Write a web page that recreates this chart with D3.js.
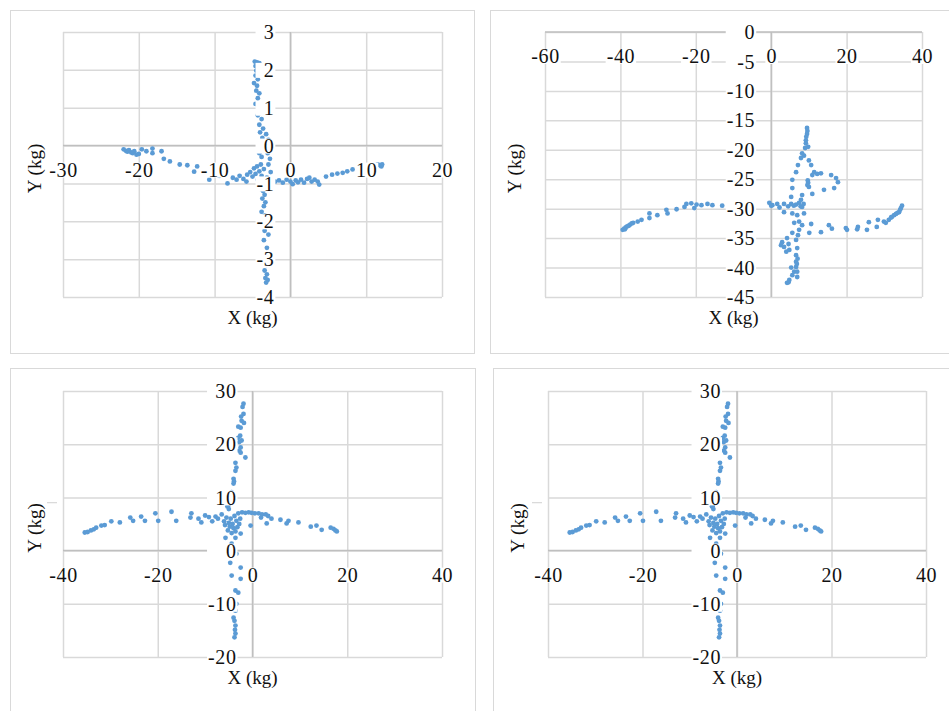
<!DOCTYPE html>
<html>
<head>
<meta charset="utf-8">
<script src="https://cdn.jsdelivr.net/npm/d3@7"></script>
<style>
  body { margin: 0; background: #fff; }
  svg text { font-family: "Liberation Serif", "DejaVu Serif", serif; fill: #111; }
</style>
</head>
<body>
<svg id="chart"></svg>
<script>
// panel 1 points (kg)
var p1X = [-22.0,-21.7,-21.5,-21.3,-21.0,-20.8,-20.6,-20.3,-20.0,-19.6,-19.0,-18.2,-18.2,-17.0,-16.7,-15.9,-14.6,-13.6,-12.7,-12.3,-10.7,-9.4,-8.3,-7.6,-7.1,-6.7,-6.2,-5.8,-5.7,-5.3,-5.0,
  -4.8,-4.6,-4.4,-4.3,-4.1,-4.0,-3.9,-3.8,-3.6,-3.5,-3.3,-3.1,
  -4.7,-4.4,-4.1,-4.6,-4.2,-4.5,-4.0,-4.6,-4.3,-4.8,-4.4,-4.5,-4.1,-4.3,-4.6,-4.0,-4.3,-3.8,-4.1,-3.6,-4.0,-3.7,-4.2,-3.9,-3.5,-4.1,-3.8,-3.2,-2.9,-2.8,-3.0,-2.7,-2.9,-2.6,
  -3.9,-3.6,-3.4,-3.7,-3.3,-3.5,-3.8,-3.4,-3.6,-3.2,-3.4,-2.9,-3.5,-3.1,-3.3,-3.6,-3.2,-3.4,-3.1,-3.3,-3.0,-3.2,
  -2.5,-2.0,-1.5,-1.0,-0.5,0.0,0.3,0.7,1.0,1.4,1.8,2.2,2.5,2.8,3.2,3.6,3.8,4.7,5.5,6.2,6.9,7.5,8.2,9.0,11.5,11.8,12.0,12.1];
var p1Y = [-0.10,-0.14,-0.16,-0.12,-0.18,-0.20,-0.15,-0.24,-0.22,-0.10,-0.15,-0.08,-0.20,-0.15,-0.35,-0.42,-0.50,-0.52,-0.69,-0.55,-0.90,-0.80,-1.00,-0.85,-0.90,-0.80,-0.88,-0.95,-0.77,-0.70,-0.82,
  -0.60,-0.75,-0.55,-0.90,-0.68,-1.00,-0.50,-0.80,-0.95,-0.62,-1.05,-0.85,
  2.22,2.20,2.18,2.10,2.05,1.98,1.92,1.85,1.75,1.65,1.58,1.45,1.38,1.25,1.10,0.95,0.80,0.70,0.55,0.45,0.35,0.20,0.10,0.00,-0.10,-0.20,-0.30,0.30,0.15,-0.05,-0.20,-0.35,-0.50,-0.70,
  -1.15,-1.20,-1.30,-1.40,-1.50,-1.60,-1.75,-1.85,-2.00,-2.10,-2.25,-2.35,-2.50,-2.70,-2.90,-3.05,-3.15,-3.30,-3.40,-3.50,-3.55,-3.62,
  -1.00,-0.95,-0.92,-0.98,-0.90,-0.95,-1.02,-0.92,-0.97,-0.90,-0.98,-0.88,-0.85,-0.95,-0.90,-0.95,-1.03,-0.82,-0.77,-0.74,-0.72,-0.68,-0.63,-0.60,-0.50,-0.52,-0.55,-0.50];

// panel 2 points (kg)
var p2X = [-39.4,-39.0,-38.6,-38.2,-37.8,-37.4,-37.0,-38.8,-36.6,-35.4,-34.4,-32.3,-32.3,-30.2,-27.8,-27.5,-25.1,-23.0,-22.5,-21.2,-20.4,-19.8,-18.5,-16.9,-15.6,-13.0,-10.0,-7.0,
  -0.5,0.0,0.3,1.6,2.2,3.4,4.5,5.3,6.0,6.6,7.4,7.8,8.2,8.6,3.4,5.6,6.9,8.7,
  9.5,9.6,9.5,9.3,9.2,9.2,9.0,9.8,8.2,8.7,7.9,10.0,10.6,7.1,6.6,11.4,12.2,13.2,10.9,15.9,17.2,17.7,16.7,14.0,10.9,9.8,9.6,10.0,9.7,5.6,5.6,8.2,7.9,5.3,
  6.1,7.4,8.2,10.6,10.1,7.4,5.6,4.2,2.9,2.6,3.4,4.8,4.0,4.6,6.6,7.1,6.9,6.6,6.6,6.6,6.1,5.3,5.6,4.8,4.2,4.6,6.9,6.9,7.0,6.8,
  13.2,15.3,16.1,19.8,20.1,22.8,23.0,25.4,25.9,28.0,28.3,29.9,30.4,31.2,31.8,32.0,32.6,33.1,33.5,33.9,34.2,34.4,34.7];
var p2Y = [-33.6,-33.4,-33.2,-33.0,-32.9,-32.7,-32.5,-33.5,-32.4,-32.2,-31.9,-30.8,-31.6,-31.1,-30.2,-30.8,-30.1,-29.7,-29.2,-29.1,-29.9,-29.3,-29.4,-29.2,-29.4,-29.5,-29.6,-29.5,
  -29.0,-29.5,-29.4,-29.2,-29.8,-29.2,-29.6,-29.2,-29.5,-29.3,-29.0,-29.6,-29.7,-29.2,-30.6,-30.8,-31.1,-30.8,
  -16.3,-16.8,-17.3,-17.8,-18.4,-18.9,-19.7,-19.5,-20.6,-21.0,-21.4,-21.8,-22.6,-22.6,-23.8,-23.8,-24.1,-24.0,-24.3,-24.3,-24.8,-25.5,-26.5,-26.8,-27.5,-25.6,-26.0,-26.3,-25.2,-25.1,-26.5,-27.7,-28.5,-28.0,
  -32.4,-32.2,-32.8,-32.6,-34.1,-33.6,-34.1,-35.0,-35.7,-36.2,-36.5,-37.0,-37.3,-36.0,-35.3,-34.5,-36.7,-37.9,-39.0,-39.9,-40.7,-40.0,-41.3,-42.1,-42.6,-42.5,-40.7,-41.6,-38.5,-39.4,
  -34.0,-32.8,-33.4,-33.3,-33.6,-33.5,-33.1,-33.6,-32.3,-33.1,-31.9,-32.2,-32.4,-31.9,-31.5,-31.4,-31.1,-30.9,-30.7,-30.6,-30.2,-29.9,-29.5];

// panels 3 and 4 points (kg)
var p3X = [-1.9,-2.1,-1.9,-2.4,-2.3,-1.8,-2.5,-3.0,-3.0,-2.6,-2.3,-2.8,-2.5,-2.8,-2.5,-1.5,-3.6,-3.4,-3.6,-4.0,-3.9,-4.0,-4.4,-4.7,-5.1,-5.3,-5.0,
  -35.4,-34.8,-34.1,-33.5,-33.0,-31.9,-31.2,-29.8,-28.0,-25.8,-25.2,-23.5,-22.7,-20.5,-19.9,-17.1,-16.1,-12.9,-13.1,-11.4,-10.8,-10.0,-9.2,-7.8,-7.3,-8.5,
  -6.5,-6.0,-5.8,-5.5,-5.2,-5.0,-4.8,-4.6,-4.4,-4.2,-4.0,-3.8,-3.6,-3.4,-3.2,-3.0,-2.8,-2.6,-2.5,
  -2.2,-1.5,-0.8,-0.2,0.5,1.3,2.0,2.8,3.3,1.8,-0.4,4.0,3.0,5.9,7.6,7.2,9.7,12.3,13.5,14.6,16.5,17.1,17.5,17.8,
  -5.7,-3.6,-4.4,-3.4,-4.7,-2.5,-4.4,-2.5,-3.6,-3.0,-3.4,-3.6,-4.0,-3.8,-3.6,-3.7,-3.6,-3.8];
var p3Y = [27.6,27.0,25.7,25.2,24.4,24.0,23.1,23.3,21.2,21.6,20.7,20.4,19.4,18.8,18.4,17.5,16.5,15.6,15.0,13.5,13.0,12.6,11.0,10.0,8.5,8.3,7.8,
  3.4,3.5,3.8,4.0,4.3,4.7,4.8,5.5,5.3,6.2,5.6,6.4,5.6,7.0,5.6,7.3,5.6,7.0,6.2,6.0,5.3,6.6,6.3,6.4,6.0,5.5,
  6.8,5.5,4.8,6.2,3.8,5.2,4.5,6.0,3.3,5.0,4.2,6.5,3.6,5.6,4.4,7.0,5.0,6.0,3.2,
  7.2,7.1,7.2,7.1,7.0,7.0,6.8,6.8,6.5,6.2,4.7,6.0,5.1,5.8,5.6,5.1,5.3,4.5,4.7,3.9,4.3,4.1,3.8,3.6,
  2.4,2.4,1.3,-0.6,-2.3,-3.2,-4.7,-5.3,-7.5,-7.9,-10.0,-11.3,-12.6,-13.2,-14.1,-14.9,-15.6,-16.3];

var panels = [
  {frame: [10, 10, 464, 343], plot: [63, 32, 442, 297], xDom: [-30, 20], xTicks: [-30, -20, -10, 0, 10, 20],
   yDom: [-4, 3], yTicks: [-4, -3, -2, -1, 0, 1, 2, 3], xs: p1X, ys: p1Y, mark: false},
  {frame: [490, 10, 470, 343], plot: [545, 32, 922, 297], xDom: [-60, 40], xTicks: [-60, -40, -20, 0, 20, 40],
   yDom: [-45, 0], yTicks: [-45, -40, -35, -30, -25, -20, -15, -10, -5, 0], xs: p2X, ys: p2Y, mark: false},
  {frame: [10, 368, 465, 360], plot: [63, 391, 442, 657], xDom: [-40, 40], xTicks: [-40, -20, 0, 20, 40],
   yDom: [-20, 30], yTicks: [-20, -10, 0, 10, 20, 30], xs: p3X, ys: p3Y, mark: true},
  {frame: [493, 368, 470, 360], plot: [548, 391, 926, 657], xDom: [-40, 40], xTicks: [-40, -20, 0, 20, 40],
   yDom: [-20, 30], yTicks: [-20, -10, 0, 10, 20, 30], xs: p3X, ys: p3Y, mark: true}
];

var svg = d3.select("#chart").attr("width", 949).attr("height", 711);
var fs = 19, tickFs = 20;

panels.forEach(function(p) {
  var left = p.plot[0], top = p.plot[1], right = p.plot[2], bottom = p.plot[3];
  var x = d3.scaleLinear().domain(p.xDom).range([left, right]),
      y = d3.scaleLinear().domain(p.yDom).range([bottom, top]);
  var g = svg.append("g");

  // chart area border
  g.append("rect")
      .attr("x", p.frame[0] + 0.5).attr("y", p.frame[1] + 0.5)
      .attr("width", p.frame[2]).attr("height", p.frame[3])
      .attr("fill", "#fff").attr("stroke", "#d9d9d9");

  // gridlines
  var gx = g.append("g")
      .attr("transform", "translate(0," + bottom + ")")
      .call(d3.axisBottom(x).tickValues(p.xTicks).tickSize(-(bottom - top)).tickFormat(""));
  var gy = g.append("g")
      .attr("transform", "translate(" + left + ",0)")
      .call(d3.axisLeft(y).tickValues(p.yTicks).tickSize(-(right - left)).tickFormat(""));
  [gx, gy].forEach(function(a) {
    a.select(".domain").remove();
    a.selectAll("line").attr("stroke", "#d9d9d9").attr("stroke-width", 1.5);
  });

  // zero axes
  g.append("line").attr("x1", left).attr("x2", right).attr("y1", y(0)).attr("y2", y(0))
      .attr("stroke", "#bfbfbf").attr("stroke-width", 1.5);
  g.append("line").attr("x1", x(0)).attr("x2", x(0)).attr("y1", top).attr("y2", bottom)
      .attr("stroke", "#bfbfbf").attr("stroke-width", 1.5);

  // points
  g.selectAll("circle")
      .data(d3.range(p.xs.length))
    .enter().append("circle")
      .attr("cx", function(i) { return x(p.xs[i]); })
      .attr("cy", function(i) { return y(p.ys[i]); })
      .attr("r", 2.4)
      .attr("fill", "#5b9bd5");

  // x tick labels, sitting under the y=0 line
  var lx = g.append("g")
      .attr("transform", "translate(0," + y(0) + ")")
      .call(d3.axisBottom(x).tickValues(p.xTicks).tickSize(0).tickFormat(function(d) { return String(d); }));
  lx.select(".domain").remove();
  lx.selectAll("text").attr("y", 31).attr("dy", null)
      .attr("font-size", tickFs).attr("font-family", null).attr("letter-spacing", "0.6px");

  // y tick labels, left of the x=0 line
  var ly = g.append("g")
      .attr("transform", "translate(" + x(0) + ",0)")
      .call(d3.axisLeft(y).tickValues(p.yTicks).tickSize(0).tickFormat(function(d) { return String(d); }));
  ly.select(".domain").remove();
  ly.selectAll("text").attr("x", -16).attr("dy", "0.33em")
      .attr("font-size", tickFs).attr("font-family", null).attr("letter-spacing", "0.6px");

  // white boxes behind labels (digit height only)
  lx.selectAll(".tick").each(function() {
    var b = d3.select(this).select("text").node().getBBox();
    d3.select(this).insert("rect", "text")
        .attr("x", b.x - 1).attr("y", 31 - 14).attr("width", b.width + 2).attr("height", 15)
        .attr("fill", "#fff");
  });
  var maxW = d3.max(ly.selectAll("text").nodes(), function(n) { return n.getBBox().width; });
  ly.selectAll(".tick").each(function() {
    d3.select(this).insert("rect", "text")
        .attr("x", -16 - maxW - 1).attr("y", -7.5).attr("width", maxW + 2).attr("height", 15)
        .attr("fill", "#fff");
  });

  // axis titles
  g.append("text")
      .attr("x", (left + right) / 2).attr("y", bottom + 27)
      .attr("text-anchor", "middle").attr("font-size", fs)
      .text("X (kg)");
  g.append("text")
      .attr("transform", "translate(" + (p.frame[0] + 31) + "," + ((top + bottom) / 2 + 4) + ") rotate(-90)")
      .attr("text-anchor", "middle").attr("font-size", fs)
      .text("Y (kg)");

  if (p.mark) {
    g.append("line").attr("x1", left - 16).attr("x2", left - 6).attr("y1", y(9)).attr("y2", y(9))
        .attr("stroke", "#d0d0d0");
  }
});
</script>
</body>
</html>
